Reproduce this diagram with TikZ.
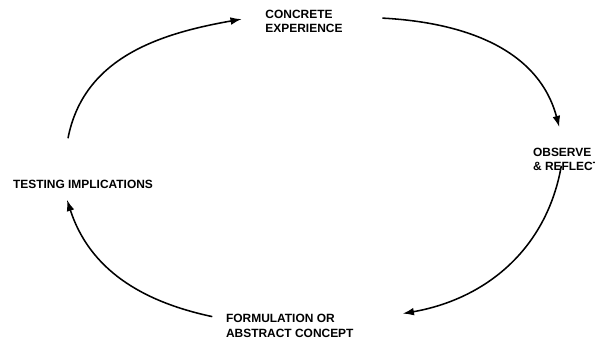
\documentclass[tikz,border=0pt]{standalone}
\usepackage{fontspec}
\setmainfont{Liberation Sans}
\usetikzlibrary{positioning}
\usetikzlibrary{arrows.meta}

\begin{document}
\begin{tikzpicture}[-{Latex[length=8pt,width=5.5pt]}, on grid,
    line width=1.1pt,
    stage/.style ={ font=\bfseries\fontsize{8.5}{10.5}\selectfont, align=left, inner sep=0pt}]
    \useasboundingbox (0,0) rectangle (14.875,8.475);
    \coordinate (C) at (7.6,4.2);
    \node[stage] (CE) [above =3.7375cm of C, anchor=center] {CONCRETE\\EXPERIENCE};
    \node[stage] (OR) [above right =0.2875cm and 6.565cm of C, anchor=center] {OBSERVE\\\& REFLECT};
    \node[stage] (FA) [below left =3.875cm and 0.355cm of C, anchor=center] {FORMULATION OR\\ABSTRACT CONCEPT};
    \node[stage] (TI) [below left =0.325cm and 5.525cm of C, anchor=center] {TESTING IMPLICATIONS};
    % the cycle, clockwise
    \draw ([shift={(-0.375,1.02)}]TI.north) to[out=79,in=190] ([shift={(-0.575,0.06)}]CE.west);
    \draw ([shift={(0.975,0.085)}]CE.east) to[out=-3,in=105] ([shift={(0.675,0.5)}]OR.north west);
    \draw ([shift={(0.725,0.15)}]OR.south west) to[out=260,in=10] ([shift={(1.21,0)}]FA.north east);
    \draw ([shift={(-0.325,-0.075)}]FA.north west) to[out=168,in=-72] ([shift={(-0.4,-0.27)}]TI.south);
\end{tikzpicture}
\end{document}
